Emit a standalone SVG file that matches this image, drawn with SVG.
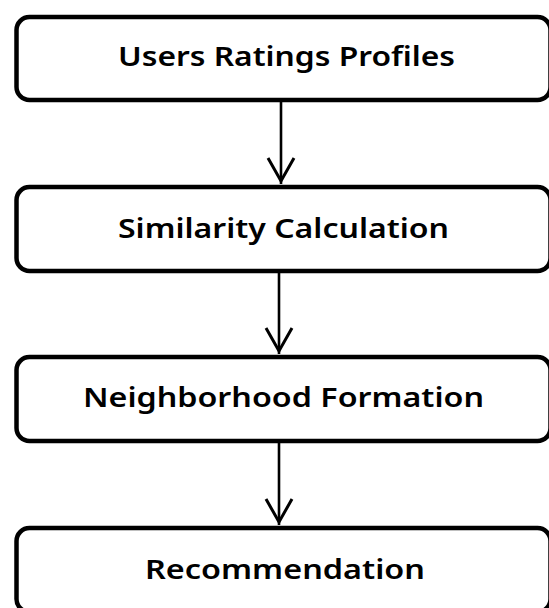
<svg xmlns="http://www.w3.org/2000/svg" width="549" height="608" viewBox="0 0 549 608">
<style>
.box{fill:#fff;stroke:#000;stroke-width:4.5}
.lbl{font-family:"Noto Sans","Open Sans","Liberation Sans",sans-serif;font-weight:600;font-size:27px;fill:#000}
.con{stroke:#000;stroke-width:2.6;fill:none}
.head{stroke:#000;stroke-width:3;fill:none;stroke-linejoin:miter}
</style>
<rect width="549" height="608" fill="#fff"/>
<g id="connectors">
<line class="con" x1="281" y1="102" x2="281" y2="184"/>
<polyline class="head" points="268,158 281,181 294,158"/>
<line class="con" x1="279" y1="272" x2="279" y2="354"/>
<polyline class="head" points="266,328 279,351 292,328"/>
<line class="con" x1="279" y1="442" x2="279" y2="525"/>
<polyline class="head" points="266,499 279,522 292,499"/>
</g>
<g id="node1">
<rect class="box" x="16.5" y="17" width="534" height="83" rx="13"/>
<text class="lbl" x="118" y="66" textLength="337" lengthAdjust="spacingAndGlyphs">Users Ratings Profiles</text>
</g>
<g id="node2">
<rect class="box" x="16.5" y="187" width="534" height="84" rx="13"/>
<text class="lbl" x="118" y="238" textLength="331" lengthAdjust="spacingAndGlyphs">Similarity Calculation</text>
</g>
<g id="node3">
<rect class="box" x="16.5" y="357" width="534" height="84" rx="13"/>
<text class="lbl" x="83" y="407" textLength="401" lengthAdjust="spacingAndGlyphs">Neighborhood Formation</text>
</g>
<g id="node4">
<rect class="box" x="16.5" y="528" width="534" height="84" rx="13"/>
<text class="lbl" x="145" y="579" textLength="280" lengthAdjust="spacingAndGlyphs">Recommendation</text>
</g>
</svg>
